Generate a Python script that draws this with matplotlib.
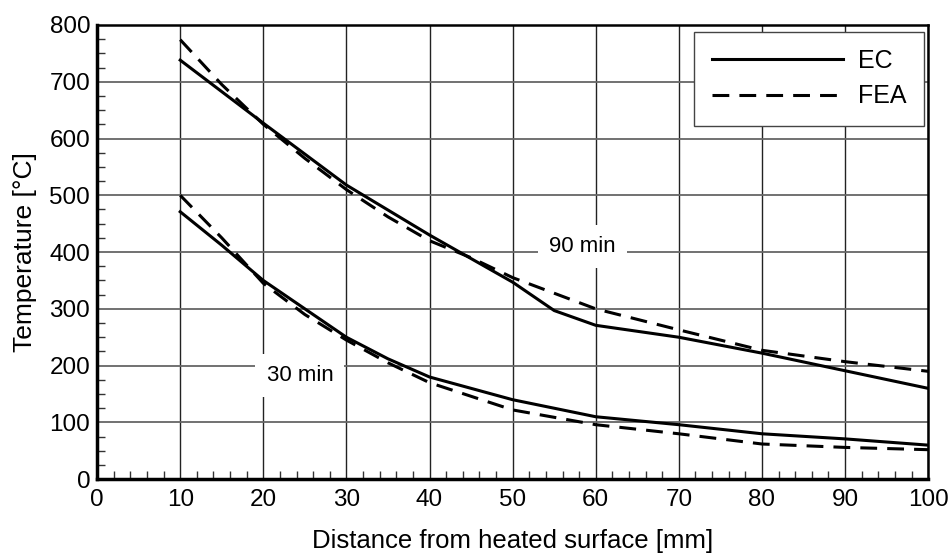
import numpy as np
import matplotlib
matplotlib.use("Agg")
import matplotlib.pyplot as plt
from matplotlib.ticker import MultipleLocator

plt.rcParams['font.family'] = ['Liberation Sans', 'DejaVu Sans']

# 90 min curves
x_ec90 = [10, 20, 30, 40, 50, 55, 60, 70, 80, 90, 100]
t_ec90 = [738, 627, 518, 430, 347, 297, 271, 250, 222, 191, 160]
x_fea90 = [10, 15, 20, 25, 30, 35, 40, 45, 50, 60, 70, 80, 90, 100]
t_fea90 = [774, 695, 625, 565, 510, 462, 420, 390, 355, 300, 263, 227, 207, 190]

# 30 min curves
x_ec30 = [10, 15, 20, 30, 35, 40, 50, 60, 70, 80, 90, 100]
t_ec30 = [471, 412, 350, 250, 212, 180, 140, 110, 96, 80, 71, 60]
x_fea30 = [10, 15, 20, 25, 30, 35, 40, 50, 60, 70, 80, 90, 100]
t_fea30 = [500, 425, 345, 290, 245, 205, 170, 122, 96, 80, 62, 56, 52]

fig = plt.figure(figsize=(9.52, 5.54), dpi=100)
ax = fig.add_axes([0.102, 0.135, 0.873, 0.82])

dash = (0, (5.5, 3.3))
ax.plot(x_ec90, t_ec90, color='black', linewidth=2.2, label='EC', zorder=3)
ax.plot(x_fea90, t_fea90, color='black', linewidth=2.2, linestyle=dash, label='FEA', zorder=3)
ax.plot(x_ec30, t_ec30, color='black', linewidth=2.2, zorder=3)
ax.plot(x_fea30, t_fea30, color='black', linewidth=2.2, linestyle=dash, zorder=3)

ax.set_xlim(0, 100)
ax.set_ylim(0, 800)
ax.xaxis.set_major_locator(MultipleLocator(10))
ax.xaxis.set_minor_locator(MultipleLocator(2))
ax.yaxis.set_major_locator(MultipleLocator(100))
ax.yaxis.set_minor_locator(MultipleLocator(25))
ax.tick_params(which='major', length=0, labelsize=17.5)
ax.tick_params(axis='x', which='major', pad=7)
ax.tick_params(axis='y', which='major', pad=5)
ax.tick_params(which='minor', direction='in', length=5.5, width=1, color='#333333')

ax.grid(axis='x', which='major', color='#222222', linewidth=1)
ax.grid(axis='y', which='major', color='#666666', linewidth=1.3)
ax.set_axisbelow(True)

for side in ['left', 'bottom']:
    ax.spines[side].set_linewidth(2.5)
for side in ['top', 'right']:
    ax.spines[side].set_linewidth(1.8)

ax.set_xlabel('Distance from heated surface [mm]', fontsize=18.5, labelpad=13)
ax.set_ylabel('Temperature [°C]', fontsize=19, labelpad=9)

box = dict(boxstyle='square,pad=0.5', facecolor='white', edgecolor='none')
ax.text(24.4, 183, '30 min', fontsize=16, ha='center', va='center', bbox=box, zorder=2)
ax.text(58.4, 410, '90 min', fontsize=16, ha='center', va='center', bbox=box, zorder=2)

leg = ax.legend(loc='upper right', fontsize=18, handlelength=5.25, handletextpad=0.6,
                fancybox=False, framealpha=1, edgecolor='#444444', borderpad=0.7,
                labelspacing=0.45, bbox_to_anchor=(0.995, 0.985), borderaxespad=0)
leg.get_frame().set_linewidth(1)

fig.savefig('out.png', dpi=100)
